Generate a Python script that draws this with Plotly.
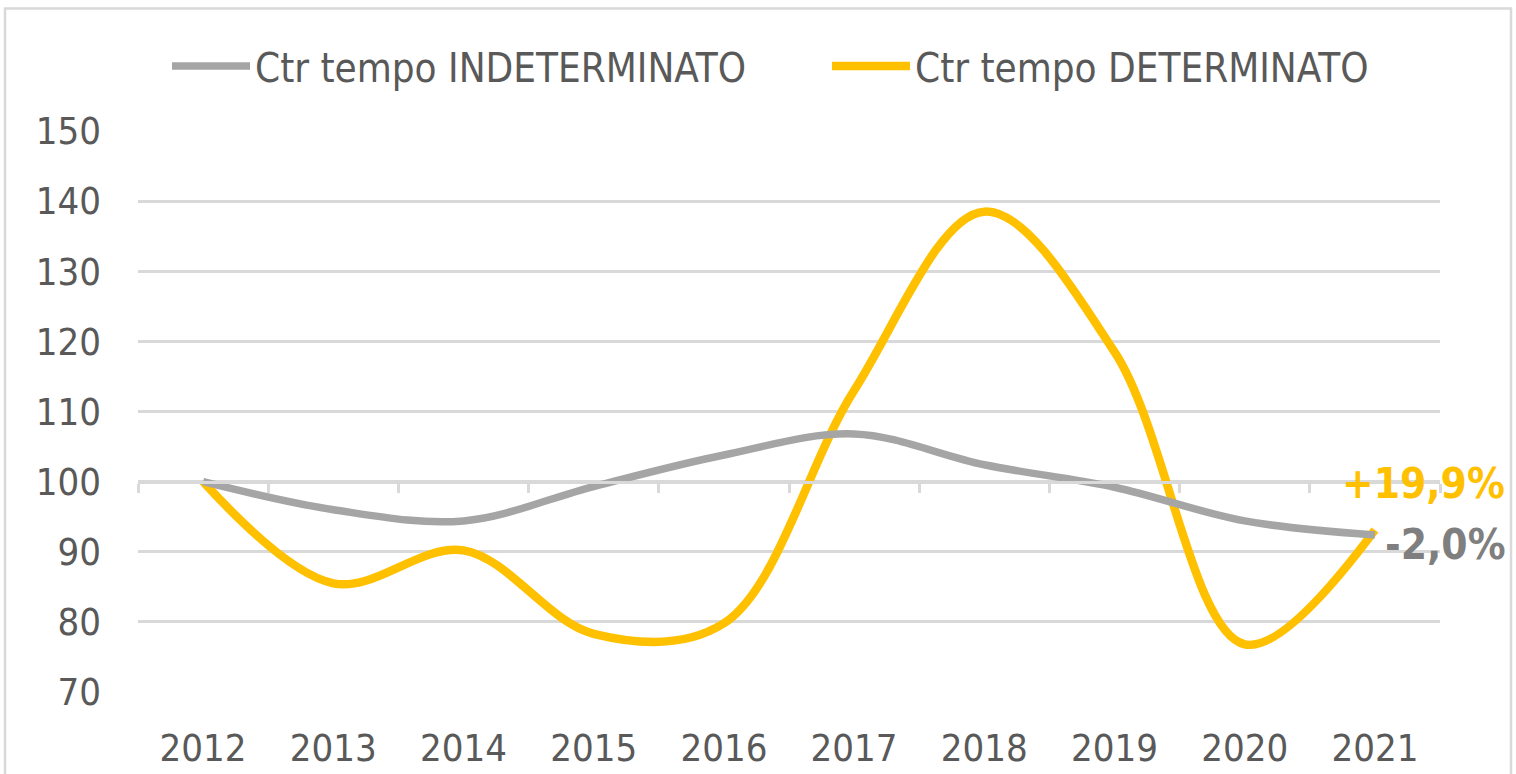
import plotly.graph_objects as go

years = ["2012", "2013", "2014", "2015", "2016", "2017", "2018", "2019", "2020", "2021"]
indeterminato = [100, 96.0, 94.4, 99.3, 103.8, 106.8, 102.4, 99.2, 94.4, 92.4]
determinato = [100, 85.5, 90.2, 78.3, 79.8, 113.0, 138.5, 118.5, 76.8, 93.1]
name_ind = "Ctr tempo INDETERMINATO"
name_det = "Ctr tempo DETERMINATO"
label_det = "+19,9%"
label_ind = "-2,0%"
y_ticks = [70, 80, 90, 100, 110, 120, 130, 140, 150]

GREY = "#a5a5a5"
GOLD = "#ffc000"
TXT = "#595959"
GRID = "#d9d9d9"
FONT = "Tahoma, 'DejaVu Sans Condensed', 'DejaVu Sans', sans-serif"

W, H = 1516, 774
L, R, T, B = 138, 76, 131, 82
pw, ph = W - L - R, H - T - B

fig = go.Figure()
fig.add_trace(go.Scatter(x=years, y=indeterminato, name=name_ind, mode="lines",
                         line=dict(color=GREY, width=7.5, shape="spline", smoothing=1.0),
                         xaxis="x2", legend="legend"))
fig.add_trace(go.Scatter(x=years, y=determinato, name=name_det, mode="lines",
                         line=dict(color=GOLD, width=8.5, shape="spline", smoothing=1.0),
                         legend="legend2"))

fig.add_annotation(text=f"<b>{label_det}</b>", xref="paper", yref="y", x=(1507 - L) / pw, y=99.8,
                   xanchor="right", yanchor="middle", showarrow=False,
                   font=dict(family=FONT, size=42, color=GOLD))
fig.add_annotation(text=f"<b>{label_ind}</b>", xref="paper", yref="y", x=(1507 - L) / pw, y=91.0,
                   xanchor="right", yanchor="middle", showarrow=False,
                   font=dict(family=FONT, size=42, color="#7f7f7f"))

# outer chart frame
fig.add_shape(type="rect", xref="paper", yref="paper",
              x0=(5 - L) / pw, x1=(1511 - L) / pw,
              y0=-0.3, y1=(H - B - 8.5) / ph,
              line=dict(color=GRID, width=2.5), fillcolor="rgba(0,0,0,0)", layer="below")

leg_common = dict(orientation="h", yref="paper", y=(H - B - 66) / ph, xanchor="left", yanchor="middle",
                  font=dict(family=FONT, size=40, color=TXT), itemwidth=78, bgcolor="rgba(0,0,0,0)")

fig.update_layout(
    width=W, height=H,
    margin=dict(l=L, r=R, t=T, b=B, autoexpand=False),
    paper_bgcolor="white", plot_bgcolor="white",
    font=dict(family=FONT, color=TXT, size=38),
    showlegend=True,
    legend=dict(xref="paper", x=(167 - L) / pw, **leg_common),
    legend2=dict(xref="paper", x=(827 - L) / pw, **leg_common),
    xaxis=dict(type="category", range=[-0.5, 9.5], showgrid=False, showline=False, ticks="",
               tickfont=dict(family=FONT, size=38, color=TXT), ticklabelstandoff=30, zeroline=False,
               automargin=False),
    xaxis2=dict(type="category", matches="x", overlaying="x", anchor="free", position=(100 - 70) / 80,
                showticklabels=False, showline=True, linecolor=GRID, linewidth=3,
                ticks="outside", tickson="boundaries", ticklen=9, tickwidth=3, tickcolor=GRID,
                showgrid=False, zeroline=False, automargin=False),
    yaxis=dict(range=[70, 150], tickvals=y_ticks, showgrid=True, gridcolor=GRID, gridwidth=2.5,
               zeroline=False, showline=False, ticks="", ticklabelstandoff=36, automargin=False,
               tickfont=dict(family=FONT, size=38, color=TXT)),
)

fig.write_html("out.html", config={"displayModeBar": False},
               post_script="document.body.style.margin='0';document.body.style.overflow='hidden';")
